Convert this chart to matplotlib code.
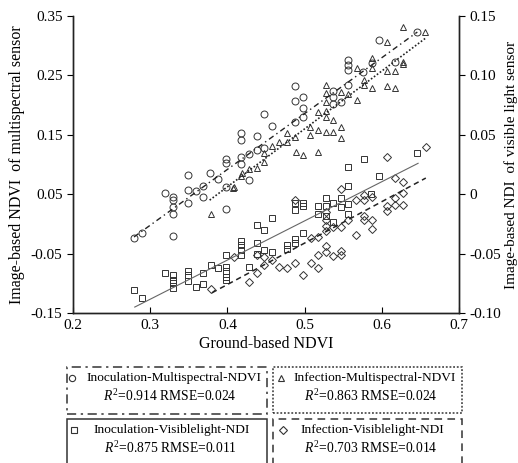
import matplotlib

matplotlib.use("Agg")
import matplotlib.pyplot as plt
from matplotlib.patches import Rectangle

plt.rcParams["font.family"] = ["Liberation Serif", "DejaVu Serif"]
plt.rcParams["axes.unicode_minus"] = False
plt.rcParams["mathtext.fontset"] = "custom"
plt.rcParams["mathtext.rm"] = "Liberation Serif"
plt.rcParams["mathtext.it"] = "Liberation Serif:italic"

# Inoculation - multispectral NDVI (left axis), circles
inoc_ms_x = [0.279, 0.289, 0.330, 0.319, 0.330, 0.330, 0.330, 0.330, 0.349, 0.349,
             0.349, 0.359, 0.369, 0.369, 0.377, 0.388, 0.398, 0.398, 0.398, 0.398,
             0.418, 0.418, 0.428, 0.428, 0.418, 0.418, 0.438, 0.447, 0.458, 0.447,
             0.438, 0.488, 0.488, 0.498, 0.498, 0.488, 0.498, 0.556, 0.556, 0.556,
             0.596, 0.646, 0.537, 0.537, 0.537, 0.547, 0.556, 0.587, 0.575, 0.617]
inoc_ms_y = [-0.024, -0.016, -0.020, 0.052, 0.045, 0.040, 0.029, 0.017, 0.082, 0.057,
             0.035, 0.055, 0.064, 0.045, 0.086, 0.076, 0.110, 0.102, 0.062, 0.025,
             0.113, 0.101, 0.118, 0.074, 0.153, 0.141, 0.148, 0.185, 0.165, 0.128,
             0.124, 0.232, 0.207, 0.214, 0.195, 0.172, 0.180, 0.276, 0.268, 0.259,
             0.310, 0.323, 0.224, 0.214, 0.202, 0.205, 0.234, 0.271, 0.255, 0.273]

# Infection - multispectral NDVI (left axis), triangles
inf_ms_x = [0.379, 0.407, 0.409, 0.418, 0.419, 0.428, 0.438, 0.447, 0.447, 0.458,
            0.467, 0.477, 0.477, 0.488, 0.489, 0.498, 0.507, 0.507, 0.517, 0.517,
            0.517, 0.528, 0.528, 0.528, 0.528, 0.528, 0.528, 0.537, 0.537, 0.547,
            0.547, 0.547, 0.556, 0.568, 0.568, 0.577, 0.577, 0.587, 0.587, 0.587,
            0.607, 0.607, 0.607, 0.617, 0.617, 0.627, 0.627, 0.627, 0.656]
inf_ms_y = [0.017, 0.060, 0.062, 0.080, 0.086, 0.092, 0.094, 0.104, 0.119, 0.131,
            0.138, 0.153, 0.138, 0.146, 0.121, 0.116, 0.150, 0.163, 0.121, 0.188,
            0.158, 0.234, 0.220, 0.205, 0.190, 0.180, 0.155, 0.175, 0.155, 0.163,
            0.145, 0.222, 0.219, 0.262, 0.209, 0.234, 0.242, 0.279, 0.262, 0.229,
            0.306, 0.257, 0.232, 0.257, 0.229, 0.331, 0.273, 0.269, 0.323]

# Inoculation - visible light NDI (right axis), squares
inoc_vl_x = [0.279, 0.289, 0.319, 0.329, 0.329, 0.329, 0.329, 0.349, 0.349, 0.349,
             0.359, 0.369, 0.369, 0.379, 0.388, 0.398, 0.398, 0.398, 0.398, 0.398,
             0.418, 0.418, 0.418, 0.418, 0.428, 0.438, 0.438, 0.438, 0.447, 0.447,
             0.458, 0.458, 0.477, 0.477, 0.488, 0.488, 0.488, 0.488, 0.498, 0.498,
             0.498, 0.517, 0.517, 0.528, 0.528, 0.528, 0.537, 0.537, 0.547, 0.547,
             0.556, 0.556, 0.556, 0.556, 0.577, 0.586, 0.596, 0.646]
inoc_vl_y = [-0.081, -0.087, -0.066, -0.068, -0.072, -0.075, -0.079, -0.065, -0.068, -0.073,
             -0.078, -0.066, -0.076, -0.060, -0.062, -0.051, -0.061, -0.065, -0.070, -0.072,
             -0.039, -0.043, -0.047, -0.051, -0.061, -0.026, -0.041, -0.050, -0.030, -0.047,
             -0.020, -0.049, -0.043, -0.046, -0.007, -0.013, -0.038, -0.041, -0.007, -0.010,
             -0.033, -0.010, -0.017, -0.003, -0.010, -0.018, -0.007, -0.023, -0.003, -0.011,
             0.023, 0.007, -0.008, -0.017, 0.030, 0.000, 0.015, 0.035]

# Infection - visible light NDI (right axis), diamonds
inf_vl_x = [0.379, 0.409, 0.428, 0.438, 0.438, 0.447, 0.447, 0.458, 0.467, 0.477,
            0.488, 0.488, 0.498, 0.508, 0.508, 0.517, 0.517, 0.517, 0.528, 0.528,
            0.528, 0.528, 0.528, 0.528, 0.537, 0.537, 0.547, 0.547, 0.547, 0.547,
            0.556, 0.567, 0.567, 0.577, 0.577, 0.577, 0.577, 0.587, 0.587, 0.587,
            0.607, 0.607, 0.607, 0.617, 0.617, 0.617, 0.627, 0.627, 0.627, 0.657]
inf_vl_y = [-0.080, -0.053, -0.074, -0.066, -0.051, -0.053, -0.060, -0.055, -0.061, -0.062,
            -0.058, -0.005, -0.068, -0.058, -0.037, -0.062, -0.051, -0.036, -0.049, -0.044,
            -0.031, -0.027, -0.015, -0.022, -0.052, -0.028, -0.048, -0.051, -0.028, 0.004,
            -0.022, -0.034, -0.005, -0.018, -0.022, -0.001, -0.005, -0.022, -0.029, -0.002,
            -0.010, -0.014, 0.031, -0.003, -0.009, 0.014, -0.009, 0.001, 0.010, 0.040]

# fitted lines, endpoints
inoc_ms_fit_x = [0.279, 0.646]
inoc_ms_fit_y = [-0.022, 0.323]
inf_ms_fit_x = [0.377, 0.657]
inf_ms_fit_y = [0.040, 0.313]
inoc_vl_fit_x = [0.280, 0.647]
inoc_vl_fit_y = [-0.095, 0.026]
inf_vl_fit_x = [0.380, 0.657]
inf_vl_fit_y = [-0.083, 0.0136]

x_ticks = [0.2, 0.3, 0.4, 0.5, 0.6, 0.7]
left_ticks = [-0.15, -0.05, 0.05, 0.15, 0.25, 0.35]
left_labels = ["-0.15", "-0.05", "0.05", "0.15", "0.25", "0.35"]
right_ticks = [-0.10, -0.05, 0.0, 0.05, 0.10, 0.15]
right_labels = ["-0.10", "-0.05", "0", "0.05", "0.10", "0.15"]

legend_names = ["Inoculation-Multispectral-NDVI", "Infection-Multispectral-NDVI",
                "Inoculation-Visiblelight-NDI", "Infection-Visiblelight-NDI"]
legend_r2 = ["0.914", "0.863", "0.875", "0.703"]
legend_rmse = ["0.024", "0.024", "0.011", "0.014"]

W, H = 518, 463
fig = plt.figure(figsize=(W / 100, H / 100), dpi=100)
ax = fig.add_axes([73 / W, 1 - 313 / H, 386 / W, 297 / H])
ax2 = ax.twinx()

mk = dict(linestyle="none", markerfacecolor="none", markeredgecolor="#333333",
          markeredgewidth=0.7, markersize=5)
ax.plot(inoc_ms_x, inoc_ms_y, marker="o", **mk)
ax.plot(inf_ms_x, inf_ms_y, marker="^", **mk)
ax2.plot(inoc_vl_x, inoc_vl_y, marker="s", **dict(mk, markersize=4.5))
ax2.plot(inf_vl_x, inf_vl_y, marker="D", **dict(mk, markersize=4))

ax.plot(inoc_ms_fit_x, inoc_ms_fit_y, color="#222222", lw=1.0, ls=(0, (4, 2.5, 1, 2.5)))
ax.plot(inf_ms_fit_x, inf_ms_fit_y, color="#222222", lw=1.2, ls=(0, (1, 1.2)))
ax2.plot(inoc_vl_fit_x, inoc_vl_fit_y, color="#666666", lw=0.8, ls="-")
ax2.plot(inf_vl_fit_x, inf_vl_fit_y, color="#222222", lw=1.1, ls=(0, (3.5, 2.5)))

ax.set_xlim(0.2, 0.7)
ax.set_ylim(-0.15, 0.35)
ax2.set_ylim(-0.10, 0.15)
ax.set_xticks(x_ticks)
ax.set_xticklabels([f"{t:.1f}" for t in x_ticks])
ax.set_yticks(left_ticks)
ax.set_yticklabels(left_labels)
ax2.set_yticks(right_ticks)
ax2.set_yticklabels(right_labels)

for a in (ax, ax2):
    a.spines["top"].set_visible(False)
    for s in ("left", "right", "bottom"):
        a.spines[s].set_linewidth(1.0)
        a.spines[s].set_color("#222222")
ax.tick_params(axis="x", direction="in", length=4, labelsize=11, pad=4)
ax.tick_params(axis="y", direction="out", length=4, labelsize=11)
ax2.tick_params(axis="y", direction="out", length=4, labelsize=11)

ax.set_xlabel("Ground-based NDVI", fontsize=11.5, labelpad=3)
ax.set_ylabel("Image-based NDVI  of multispectral sensor", fontsize=11.5, labelpad=4)
ax2.set_ylabel("Image-based NDI  of visible light sensor", fontsize=11,
               rotation=90, labelpad=2)

# legend boxes below the plot
boxes = [(67, 367, 200, 47), (273, 367, 189, 46), (67, 419, 200, 60), (273, 419, 189, 60)]
box_styles = [(0, (6, 3, 1.5, 3)), (0, (1.2, 1.2)), "-", (0, (5, 3.5))]
box_markers = ["o", "^", "s", "D"]
marker_x = [72, 281, 74, 283]
name_shift = [7, 7, 5, 5]
for i, (bx, by, bw, bh) in enumerate(boxes):
    fig.patches.append(Rectangle((bx / W, 1 - (by + bh) / H), bw / W, bh / H,
                                 transform=fig.transFigure, fill=False,
                                 edgecolor="#333333", lw=1.1, ls=box_styles[i]))
    cx = (bx + bw / 2) / W
    fig.text(cx + name_shift[i] / W, 1 - (by + 11) / H, legend_names[i],
             ha="center", va="center", fontsize=9.6)
    fig.text(cx + 3 / W, 1 - (by + 29) / H,
             "$R^2$=" + legend_r2[i] + " RMSE=" + legend_rmse[i],
             ha="center", va="center", fontsize=9.8)
    fig.lines.append(plt.Line2D([marker_x[i] / W], [1 - (by + 11) / H],
                                transform=fig.transFigure, marker=box_markers[i],
                                markerfacecolor="none", markeredgecolor="#333333",
                                markersize=4.5 if box_markers[i] != "D" else 3.8,
                                markeredgewidth=0.8, linestyle="none"))

fig.savefig("out.png", dpi=100)
